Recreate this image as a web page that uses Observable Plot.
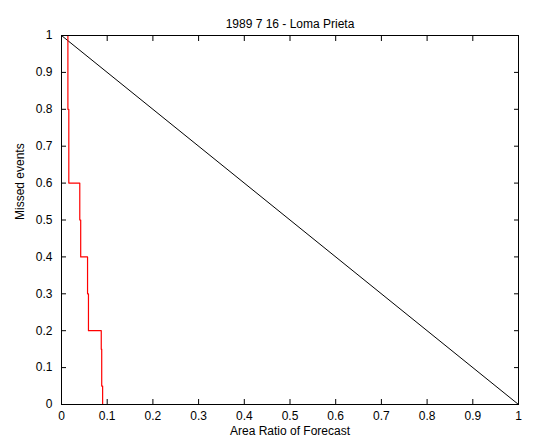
<!DOCTYPE html>
<html>
<head>
<meta charset="utf-8">
<script src="https://cdn.jsdelivr.net/npm/d3@7"></script>
<script src="https://cdn.jsdelivr.net/npm/@observablehq/plot@0.6"></script>
<style>
  html, body { margin: 0; padding: 0; background: #fff; }
  #chart { width: 533px; height: 442px; }
</style>
</head>
<body>
<div id="chart"></div>
<script>
const title = "1989 7 16 - Loma Prieta";
const xLabel = "Area Ratio of Forecast";
const yLabel = "Missed events";
const ticks = [0, 0.1, 0.2, 0.3, 0.4, 0.5, 0.6, 0.7, 0.8, 0.9, 1];
const tickLabels = ["0", "0.1", "0.2", "0.3", "0.4", "0.5", "0.6", "0.7", "0.8", "0.9", "1"];

// Forecast curve (area ratio vs missed events)
const areaRatio = [0.014, 0.014, 0.016, 0.016, 0.040, 0.040, 0.042, 0.042, 0.057, 0.057, 0.059, 0.059, 0.087, 0.087, 0.088, 0.088, 0.090, 0.090];
const missed    = [1.0,   0.8,   0.8,   0.6,   0.6,   0.5,   0.5,   0.4,   0.4,   0.3,   0.3,   0.2,   0.2,   0.15,  0.15,  0.05,  0.05,  0.0];

// Random-forecast reference diagonal
const diagX = [0, 1];
const diagY = [1, 0];

const curve = areaRatio.map((x, i) => ({x, y: missed[i]}));
const diag = diagX.map((x, i) => ({x, y: diagY[i]}));
const fmt = d => tickLabels[ticks.indexOf(d)] ?? String(d);

const plot = Plot.plot({
  width: 533,
  height: 442,
  marginLeft: 61,
  marginRight: 15,
  marginTop: 35,
  marginBottom: 38,
  style: {fontFamily: "'Liberation Sans', Arial, sans-serif", fontSize: "12px", color: "#000", background: "#fff"},
  x: {domain: [0, 1]},
  y: {domain: [0, 1]},
  marks: [
    Plot.line(diag, {x: "x", y: "y", stroke: "#000", strokeWidth: 1}),
    Plot.line(curve, {x: "x", y: "y", stroke: "#ff0000", strokeWidth: 1.2}),
    Plot.frame({stroke: "#000", strokeWidth: 1}),
    Plot.axisX({anchor: "bottom", ticks, tickSize: -5, tickPadding: 12, tickFormat: fmt, label: null, fontSize: 12}),
    Plot.axisX({anchor: "top", ticks, tickSize: -5, tickFormat: () => "", label: null}),
    Plot.axisY({anchor: "left", ticks, tickSize: -5, tickPadding: 14, tickFormat: fmt, label: null, fontSize: 12}),
    Plot.axisY({anchor: "right", ticks, tickSize: -5, tickFormat: () => "", label: null}),
    Plot.text([title], {frameAnchor: "top", dy: -16, text: d => d, fontSize: 12}),
    Plot.text([xLabel], {frameAnchor: "bottom", dy: 30, text: d => d, fontSize: 12}),
    Plot.text([yLabel], {frameAnchor: "left", dx: -41, rotate: -90, text: d => d, fontSize: 12})
  ]
});
document.getElementById("chart").appendChild(plot);
</script>
</body>
</html>
